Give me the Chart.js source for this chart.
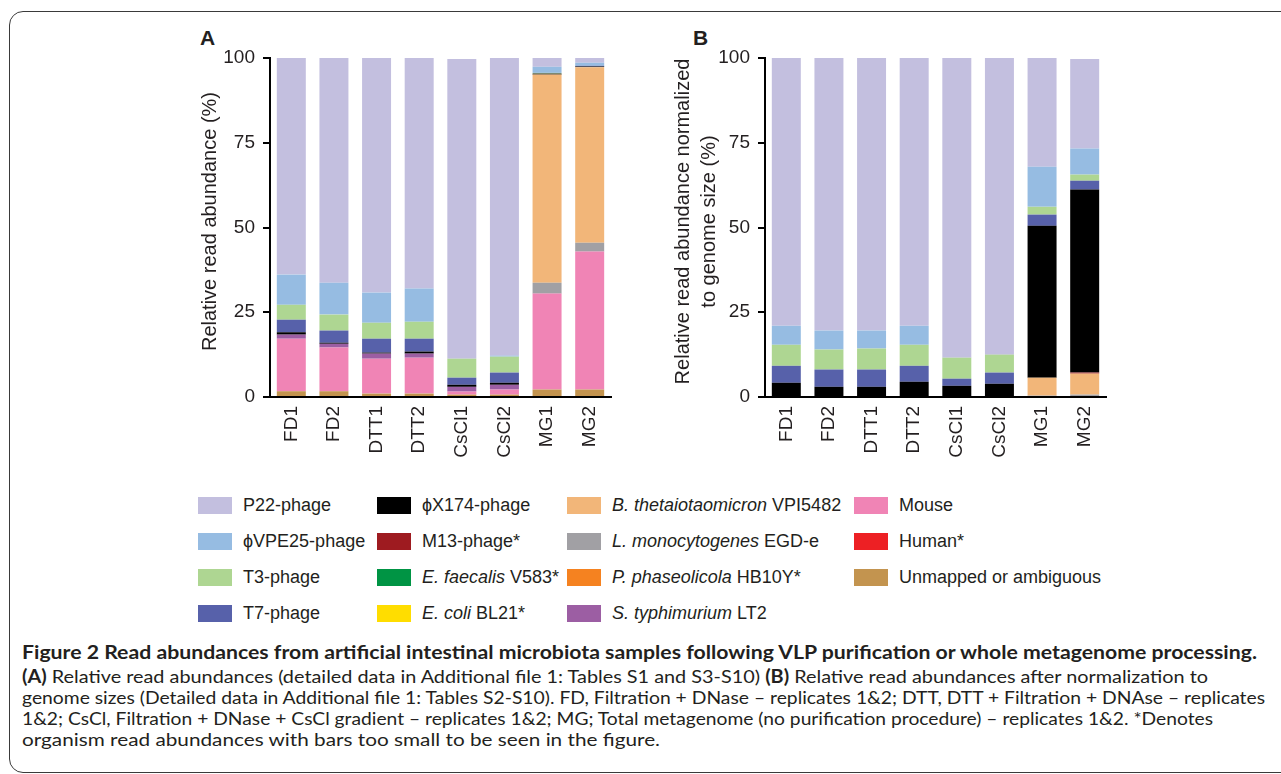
<!DOCTYPE html>
<html>
<head>
<meta charset="utf-8">
<script src="https://cdn.jsdelivr.net/npm/chart.js@4.4.1/dist/chart.umd.min.js"></script>
<style>
html, body { margin: 0; padding: 0; background: #fff; }
body { width: 1281px; height: 774px; position: relative; overflow: hidden;
       font-family: 'Liberation Sans', Arial, sans-serif; color: #231f20; }
.frame { position: absolute; left: 9px; top: 11px; width: 1330px; height: 762px;
         border: 1.5px solid #3a3a3a; border-radius: 14px; box-sizing: border-box; }
.panel { position: absolute; }
.letter { position: absolute; font-weight: bold; font-size: 21px; line-height: 21px; }
.lg-sw { position: absolute; width: 34px; height: 17px; }
.lg-tx { position: absolute; font-size: 18px; line-height: 18px; white-space: nowrap; }
.cap { position: absolute; left: 22px; white-space: nowrap; font-family: Lato, sans-serif;
       font-size: 18px; line-height: 20px; transform-origin: 0 50%; color: #231f20; }
.cap b { font-weight: 700; }
</style>
</head>
<body>
<div class="frame"></div>
<div class="letter" style="left:200px;top:27px">A</div>
<div class="letter" style="left:693px;top:27px">B</div>
<canvas id="chartA" class="panel" width="460" height="450" style="left:180px;top:20px"></canvas>
<canvas id="chartB" class="panel" width="470" height="450" style="left:660px;top:20px"></canvas>
<div id="legend"></div>

<div class="cap" id="cap0" style="top:642px;font-weight:700">Figure 2 Read abundances from artificial intestinal microbiota samples following VLP purification or whole metagenome processing.</div>
<div class="cap" id="cap1" style="top:666px"><b>(A)</b> Relative read abundances (detailed data in Additional file 1: Tables S1 and S3-S10) <b>(B)</b> Relative read abundances after normalization to</div>
<div class="cap" id="cap2" style="top:687px">genome sizes (Detailed data in Additional file 1: Tables S2-S10). FD, Filtration + DNase – replicates 1&amp;2; DTT, DTT + Filtration + DNAse – replicates</div>
<div class="cap" id="cap3" style="top:708px">1&amp;2; CsCl, Filtration + DNase + CsCl gradient – replicates 1&amp;2; MG; Total metagenome (no purification procedure) – replicates 1&amp;2. *Denotes</div>
<div class="cap" id="cap4" style="top:729px">organism read abundances with bars too small to be seen in the figure.</div>

<script>
// samples on the x axis
const samples = ['FD1', 'FD2', 'DTT1', 'DTT2', 'CsCl1', 'CsCl2', 'MG1', 'MG2'];

// stacking order, bottom to top
const seriesNames = [
    'Unmapped or ambiguous', 'Mouse', 'Human*', 'L. monocytogenes EGD-e',
    'B. thetaiotaomicron VPI5482', 'P. phaseolicola HB10Y*', 'E. coli BL21*',
    'E. faecalis V583*', 'S. typhimurium LT2', 'M13-phage*', 'ϕX174-phage',
    'T7-phage', 'T3-phage', 'ϕVPE25-phage', 'P22-phage'
];
const seriesColors = [
    '#c3944f', '#f084b5', '#ed2024', '#a1a0a4',
    '#f2b679', '#f58220', '#ffdd00',
    '#009444', '#9c5ea3', '#9e1b20', '#000000',
    '#5761aa', '#aed692', '#96bce2', '#c3bfdf'
];
const legendLabels = [
    'Unmapped or ambiguous', 'Mouse', 'Human*', '<i>L. monocytogenes</i> EGD-e',
    '<i>B. thetaiotaomicron</i> VPI5482', '<i>P. phaseolicola</i> HB10Y*', '<i>E. coli</i> BL21*',
    '<i>E. faecalis</i> V583*', '<i>S. typhimurium</i> LT2', 'M13-phage*', 'ϕX174-phage',
    'T7-phage', 'T3-phage', 'ϕVPE25-phage', 'P22-phage'
];
// legend columns (series indices)
const legendColumns = [[14, 13, 12, 11], [10, 9, 7, 6], [4, 3, 5, 8], [1, 2, 0]];

// --- Panel A: relative read abundance (%) ---
const unmappedA = [1.7, 1.7, 1.0, 1.0, 0.7, 0.7, 2.2, 2.2];
const mouseA    = [15.5, 12.9, 10.3, 10.6, 0.9, 1.5, 28.3, 40.7];
const humanA    = [];
const lmonoA    = [0, 0, 0, 0, 0, 0, 3.2, 2.6];
const bthetaA   = [0, 0, 0, 0, 0, 0, 61.4, 51.8];
const pphaseA   = [];
const ecoliA    = [];
const efaecA    = [];
const styphA    = [1.2, 1.1, 1.5, 1.2, 1.4, 1.4, 0, 0];
const m13A      = [];
const phixA     = [0.7, 0.3, 0.3, 0.6, 0.6, 0.6, 0.3, 0.2];
const t7A       = [3.7, 3.6, 4.1, 3.8, 2.1, 3.0, 0, 0.2];
const t3A       = [4.4, 4.7, 4.7, 5.0, 5.6, 4.7, 0.2, 0];
const vpeA      = [8.9, 9.4, 8.9, 9.8, 0, 0.3, 1.8, 0.9];
const p22A      = [63.9, 66.3, 69.2, 68.0, 88.4, 87.8, 2.6, 1.4];

// --- Panel B: normalized to genome size (%) ---
const unmappedB = [];
const mouseB    = [];
const humanB    = [];
const lmonoB    = [0, 0, 0, 0, 0, 0, 0.4, 0.7];
const bthetaB   = [0, 0, 0, 0, 0, 0, 5.3, 6.2];
const pphaseB   = [];
const ecoliB    = [];
const efaecB    = [];
const styphB    = [];
const m13B      = [0, 0, 0, 0, 0, 0, 0, 0.3];
const phixB     = [4.2, 3.0, 3.0, 4.5, 3.3, 3.9, 44.8, 54.0];
const t7B       = [5.0, 5.1, 5.1, 4.7, 2.1, 3.3, 3.3, 2.6];
const t3B       = [6.2, 5.9, 6.2, 6.2, 6.2, 5.3, 2.3, 1.8];
const vpeB      = [5.6, 5.6, 5.3, 5.6, 0, 0, 11.8, 7.7];
const p22B      = [79.0, 80.4, 80.4, 79.0, 88.4, 87.5, 32.1, 26.4];

const yTicks = [0, 25, 50, 75, 100];

const valuesA = [unmappedA, mouseA, humanA, lmonoA, bthetaA, pphaseA, ecoliA, efaecA,
                 styphA, m13A, phixA, t7A, t3A, vpeA, p22A];
const valuesB = [unmappedB, mouseB, humanB, lmonoB, bthetaB, pphaseB, ecoliB, efaecB,
                 styphB, m13B, phixB, t7B, t3B, vpeB, p22B];

const INK = '#231f20';
Chart.defaults.font.family = "'Liberation Sans', Arial, sans-serif";
Chart.defaults.color = INK;

// y-axis title, drawn a little above the plot centre like the figure
const yTitlePlugin = {
    id: 'yTitle',
    afterDraw(chart, args, opts) {
        const ctx = chart.ctx;
        const y = chart.scales.y;
        const mid = (y.top + y.bottom) / 2 - 6;
        ctx.save();
        ctx.fillStyle = INK;
        ctx.font = "20px 'Liberation Sans', Arial, sans-serif";
        ctx.textAlign = 'center';
        ctx.textBaseline = 'middle';
        opts.lines.forEach((line, i) => {
            ctx.save();
            ctx.translate(y.left + opts.x + i * 26, mid);
            ctx.rotate(-Math.PI / 2);
            ctx.fillText(line, 0, 0);
            ctx.restore();
        });
        ctx.restore();
    }
};

function makeChart(canvasId, values, yLines, titleX, yWidth, pad) {
    const datasets = seriesNames.map((name, i) => ({
        label: name,
        data: values[i],
        backgroundColor: seriesColors[i],
        borderWidth: 0,
        barPercentage: 0.68,
        categoryPercentage: 1.0
    }));
    return new Chart(document.getElementById(canvasId), {
        type: 'bar',
        data: { labels: samples, datasets },
        plugins: [yTitlePlugin],
        options: {
            responsive: false,
            animation: false,
            layout: { padding: pad },
            plugins: {
                legend: { display: false },
                tooltip: { enabled: false },
                yTitle: { lines: yLines, x: titleX }
            },
            scales: {
                x: {
                    stacked: true,
                    grid: { display: false, drawTicks: false },
                    border: { display: true, color: '#000', width: 2 },
                    ticks: { color: INK, font: { size: 19 }, minRotation: 90, maxRotation: 90,
                             padding: 9, autoSkip: false },
                    afterFit: s => { s.height = 450 - pad.top - 339; }
                },
                y: {
                    stacked: true,
                    min: 0, max: 100,
                    afterBuildTicks: s => { s.ticks = yTicks.map(v => ({ value: v })); },
                    ticks: { color: INK, font: { size: 19 }, padding: 8 },
                    grid: { drawOnChartArea: false, drawTicks: true, tickLength: 7,
                            color: '#000', lineWidth: 2 },
                    border: { display: true, color: '#000', width: 2 },
                    afterFit: s => { s.width = yWidth; }
                }
            }
        }
    });
}

makeChart('chartA', valuesA, ['Relative read abundance (%)'], 30, 90,
          { top: 38, left: 0, right: 29, bottom: 0 });
makeChart('chartB', valuesB, ['Relative read abundance normalized', 'to genome size (%)'], 23, 105,
          { top: 38, left: 0, right: 24, bottom: 0 });

// legend
const legend = document.getElementById('legend');
const swatchX = [198, 377, 567, 854];
const textX = [243, 422, 612, 899];
const rowY = [505, 541, 577, 613];
legendColumns.forEach((col, c) => {
    col.forEach((idx, r) => {
        const sw = document.createElement('div');
        sw.className = 'lg-sw';
        sw.style.left = swatchX[c] + 'px';
        sw.style.top = (rowY[r] - 8.5) + 'px';
        sw.style.background = seriesColors[idx];
        legend.appendChild(sw);
        const tx = document.createElement('div');
        tx.className = 'lg-tx';
        tx.style.left = textX[c] + 'px';
        tx.style.top = (rowY[r] - 9) + 'px';
        tx.innerHTML = legendLabels[idx];
        legend.appendChild(tx);
    });
});

// fit caption lines to the widths in the figure
const capWidths = [1235, 1186, 1243, 1191, 638];
capWidths.forEach((w, i) => {
    const el = document.getElementById('cap' + i);
    const cur = el.getBoundingClientRect().width;
    el.style.transform = 'scaleX(' + (w / cur) + ')';
});
</script>
</body>
</html>
